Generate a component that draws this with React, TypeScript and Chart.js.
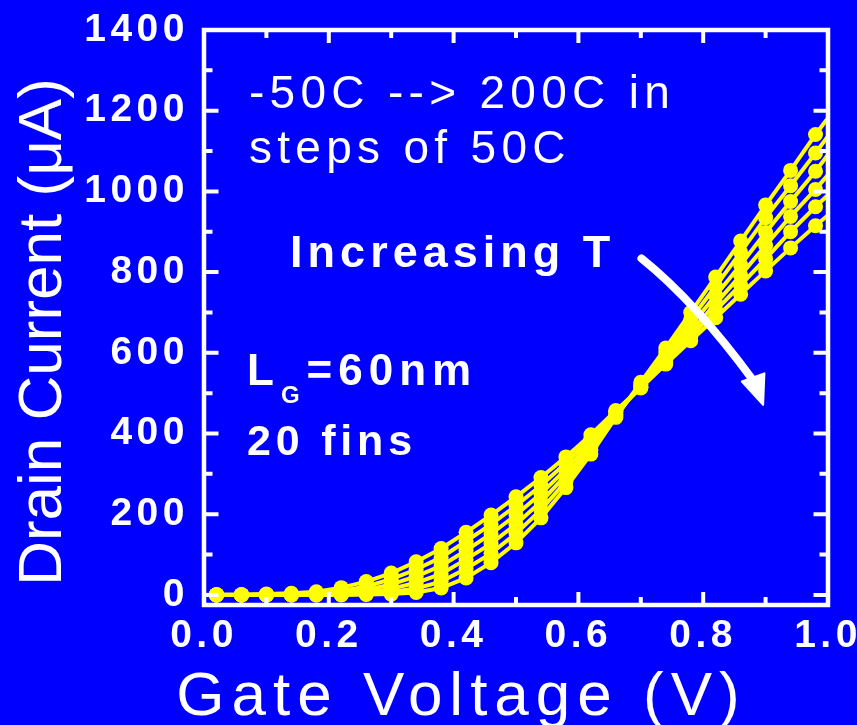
import { useEffect, useRef } from "react";
import { Chart, registerables } from "chart.js";

Chart.register(...registerables);

// Gate voltage sweep (V); the two end samples carry the line to the frame without a marker
const GATE_VOLTAGE = [0, 0.02, 0.06, 0.1, 0.14, 0.18, 0.22, 0.26, 0.3, 0.34, 0.38, 0.42, 0.46, 0.5, 0.54, 0.58, 0.62, 0.66, 0.7, 0.74, 0.78, 0.82, 0.86, 0.9, 0.94, 0.98, 1.0];

const TEMPERATURES = ["-50C", "0C", "50C", "100C", "150C", "200C"];

// Drain current (uA) for each temperature
const ID_M50C = [0, 0, 0, 0, 0, 0, 0, 1, 2, 6, 17, 42, 80, 129, 191, 266, 349, 440, 527, 612, 700, 788, 877, 966, 1052, 1141, 1182];
const ID_0C = [0, 0, 0, 0, 0, 0, 1, 2, 7, 16, 33, 65, 103, 152, 211, 281, 359, 444, 522, 602, 683, 765, 849, 935, 1014, 1095, 1137];
const ID_50C = [0, 0, 0, 0, 0, 1, 2, 6, 15, 30, 52, 88, 127, 175, 231, 296, 368, 448, 518, 592, 667, 742, 818, 898, 975, 1050, 1091];
const ID_100C = [0, 0, 0, 0, 1, 2, 5, 12, 26, 46, 72, 110, 151, 198, 251, 311, 378, 452, 515, 583, 652, 722, 792, 866, 938, 1005, 1041];
const ID_150C = [0, 0, 0, 1, 2, 4, 10, 21, 39, 63, 93, 133, 175, 221, 271, 327, 388, 455, 514, 577, 640, 705, 768, 833, 900, 962, 991];
const ID_200C = [0, 1, 1, 2, 4, 8, 18, 33, 54, 82, 115, 155, 198, 243, 291, 342, 397, 457, 513, 572, 630, 687, 745, 803, 860, 915, 941];

const SERIES = [ID_M50C, ID_0C, ID_50C, ID_100C, ID_150C, ID_200C];

// Axis ticks
const X_TICKS = [0, 0.2, 0.4, 0.6, 0.8, 1.0];
const X_MINOR = [0.1, 0.3, 0.5, 0.7, 0.9];
const Y_TICKS = [0, 200, 400, 600, 800, 1000, 1200, 1400];
const Y_MINOR = [100, 300, 500, 700, 900, 1100, 1300];

const X_TITLE = "Gate Voltage (V)";
const Y_TITLE = "Drain Current (\u03BCA)";

// Annotations, anchored in data coordinates (left edge, text baseline)
const NOTE_SWEEP = ["-50C --> 200C in", "steps of 50C"];
const NOTE_SWEEP_AT = [
  [0.072, 1207],
  [0.072, 1070],
];
const NOTE_TREND = "Increasing T";
const NOTE_TREND_AT = [0.138, 813];
const NOTE_GATE = ["L", "G", "=60nm"];
const NOTE_GATE_AT = [0.069, 520];
const NOTE_FINS = "20 fins";
const NOTE_FINS_AT = [0.069, 347];

// Curved arrow: start, control, end of curve, then arrow tip
const ARROW_CURVE = [
  [0.701, 834],
  [0.788, 726],
  [0.88, 539],
];
const ARROW_TIP = [0.896, 471];

const BLUE = "#0000FF";
const YELLOW = "#FFFF00";
const WHITE = "#FFFFFF";
const FONT = '"Liberation Sans", Arial, Helvetica, sans-serif';

type Ctx = CanvasRenderingContext2D & { letterSpacing: string };

function spacedText(ctx: Ctx, text: string, x: number, y: number, spacing: number, align: "left" | "center" | "right" = "left") {
  ctx.letterSpacing = `${spacing}px`;
  const w = ctx.measureText(text).width - spacing;
  const sx = align === "center" ? x - w / 2 : align === "right" ? x - w : x;
  ctx.textAlign = "left";
  ctx.fillText(text, sx, y);
  return sx + w + spacing;
}

// keep the plot frame exactly where the scales are fitted, without label overhang
function noOverhang(s: any) {
  s.paddingTop = 0;
  s.paddingBottom = 0;
  s.paddingLeft = 0;
  s.paddingRight = 0;
}

const framePlugin = {
  id: "frameAndNotes",
  beforeDraw(chart: any) {
    const ctx = chart.ctx as Ctx;
    ctx.save();
    ctx.fillStyle = BLUE;
    ctx.fillRect(0, 0, chart.width, chart.height);
    ctx.restore();
    // tracking for the tick labels drawn by the scales
    ctx.letterSpacing = "4.5px";
  },
  afterDatasetsDraw(chart: any) {
    const ctx = chart.ctx as Ctx;
    const { left, right, top, bottom } = chart.chartArea;
    const xs = chart.scales.x;
    const ys = chart.scales.y;
    const px = (v: number) => xs.getPixelForValue(v);
    const py = (v: number) => ys.getPixelForValue(v);

    ctx.save();
    ctx.strokeStyle = WHITE;
    ctx.lineCap = "butt";

    // inward tick marks on all four sides
    ctx.lineWidth = 4;
    const xTick = (v: number, len: number) => {
      const x = px(v);
      ctx.beginPath();
      ctx.moveTo(x, bottom);
      ctx.lineTo(x, bottom - len);
      ctx.moveTo(x, top);
      ctx.lineTo(x, top + len);
      ctx.stroke();
    };
    const yTick = (v: number, len: number) => {
      const y = py(v);
      ctx.beginPath();
      ctx.moveTo(left, y);
      ctx.lineTo(left + len, y);
      ctx.moveTo(right, y);
      ctx.lineTo(right - len, y);
      ctx.stroke();
    };
    X_TICKS.forEach((v) => xTick(v, 13));
    X_MINOR.forEach((v) => xTick(v, 8));
    Y_TICKS.forEach((v) => yTick(v, 14.5));
    Y_MINOR.forEach((v) => yTick(v, 8.5));

    // frame
    ctx.lineWidth = 4.5;
    ctx.strokeRect(left, top, right - left, bottom - top);

    // annotations
    ctx.fillStyle = WHITE;
    ctx.textBaseline = "alphabetic";
    ctx.font = `normal 46px ${FONT}`;
    NOTE_SWEEP.forEach((t, i) => spacedText(ctx, t, px(NOTE_SWEEP_AT[i][0]), py(NOTE_SWEEP_AT[i][1]), 5.3));

    ctx.font = `bold 45px ${FONT}`;
    spacedText(ctx, NOTE_TREND, px(NOTE_TREND_AT[0]), py(NOTE_TREND_AT[1]), 5);

    ctx.font = `bold 44px ${FONT}`;
    let gx = px(NOTE_GATE_AT[0]);
    const gy = py(NOTE_GATE_AT[1]);
    gx = spacedText(ctx, NOTE_GATE[0], gx, gy, 5);
    ctx.font = `bold 24px ${FONT}`;
    gx = spacedText(ctx, NOTE_GATE[1], gx + 2, gy + 18, 3);
    ctx.font = `bold 44px ${FONT}`;
    spacedText(ctx, NOTE_GATE[2], gx + 4, gy, 6);

    ctx.font = `bold 43px ${FONT}`;
    spacedText(ctx, NOTE_FINS, px(NOTE_FINS_AT[0]), py(NOTE_FINS_AT[1]), 4.8);

    // curved arrow
    const p0 = [px(ARROW_CURVE[0][0]), py(ARROW_CURVE[0][1])];
    const p1 = [px(ARROW_CURVE[1][0]), py(ARROW_CURVE[1][1])];
    const p2 = [px(ARROW_CURVE[2][0]), py(ARROW_CURVE[2][1])];
    const tip = [px(ARROW_TIP[0]), py(ARROW_TIP[1])];
    ctx.lineWidth = 8;
    ctx.lineCap = "round";
    ctx.beginPath();
    ctx.moveTo(p0[0], p0[1]);
    ctx.quadraticCurveTo(p1[0], p1[1], p2[0], p2[1] + 3);
    ctx.stroke();
    const dx = tip[0] - p2[0];
    const dy = tip[1] - p2[1];
    const len = Math.hypot(dx, dy);
    const nx = -dy / len;
    const ny = dx / len;
    const hw = 12;
    ctx.beginPath();
    ctx.moveTo(p2[0] + nx * hw, p2[1] + ny * hw);
    ctx.lineTo(tip[0], tip[1]);
    ctx.lineTo(p2[0] - nx * hw, p2[1] - ny * hw);
    ctx.closePath();
    ctx.lineWidth = 2;
    ctx.lineJoin = "round";
    ctx.fill();
    ctx.stroke();

    // axis titles
    ctx.font = `normal 62px ${FONT}`;
    spacedText(ctx, X_TITLE, 458, 715, 7, "center");

    ctx.translate(61, 332);
    ctx.rotate(-Math.PI / 2);
    spacedText(ctx, Y_TITLE, 0, 0, 0, "center");
    ctx.restore();
    ctx.letterSpacing = "0px";
  },
};

export default function App() {
  const ref = useRef<HTMLCanvasElement>(null);

  useEffect(() => {
    document.body.style.margin = "0";
    document.body.style.background = BLUE;
    const last = GATE_VOLTAGE.length - 1;
    const markerRadius = (c: any) => (c.dataIndex === 0 || c.dataIndex === last ? 0 : 7.5);
    const tickFont = { family: FONT, size: 39, weight: "bold" as const, lineHeight: 1.2 };

    const chart = new Chart(ref.current as HTMLCanvasElement, {
      type: "line",
      data: {
        datasets: SERIES.map((vals, k) => ({
          label: TEMPERATURES[k],
          data: GATE_VOLTAGE.map((v, i) => ({ x: v, y: vals[i] })),
          borderColor: YELLOW,
          backgroundColor: YELLOW,
          pointBackgroundColor: YELLOW,
          borderWidth: 4,
          pointRadius: markerRadius,
          pointHoverRadius: markerRadius,
          pointBorderWidth: 0,
          tension: 0,
        })),
      },
      options: {
        responsive: false,
        animation: false,
        devicePixelRatio: 1,
        events: [],
        layout: { padding: { top: 30, right: 29, left: 0, bottom: 0 } },
        plugins: { legend: { display: false }, tooltip: { enabled: false } },
        scales: {
          x: {
            type: "linear",
            min: 0,
            max: 1,
            afterBuildTicks: (s: any) => {
              s.ticks = X_TICKS.map((value) => ({ value }));
            },
            afterFit: (s: any) => {
              s.height = 120;
              noOverhang(s);
            },
            grid: { display: false, drawTicks: false },
            border: { display: false },
            ticks: {
              color: WHITE,
              font: tickFont,
              padding: 8,
              maxRotation: 0,
              autoSkip: false,
              callback: (v: any) => Number(v).toFixed(1),
            },
          },
          y: {
            type: "linear",
            min: -25,
            max: 1400,
            afterBuildTicks: (s: any) => {
              s.ticks = Y_TICKS.map((value) => ({ value }));
            },
            afterFit: (s: any) => {
              s.width = 204;
              noOverhang(s);
            },
            grid: { display: false, drawTicks: false },
            border: { display: false },
            ticks: {
              color: WHITE,
              font: tickFont,
              padding: 15,
              autoSkip: false,
              callback: (v: any) => String(v),
            },
          },
        },
      },
      plugins: [framePlugin],
    });
    return () => chart.destroy();
  }, []);

  return <canvas ref={ref} width={857} height={725} style={{ display: "block", width: 857, height: 725 }} />;
}
